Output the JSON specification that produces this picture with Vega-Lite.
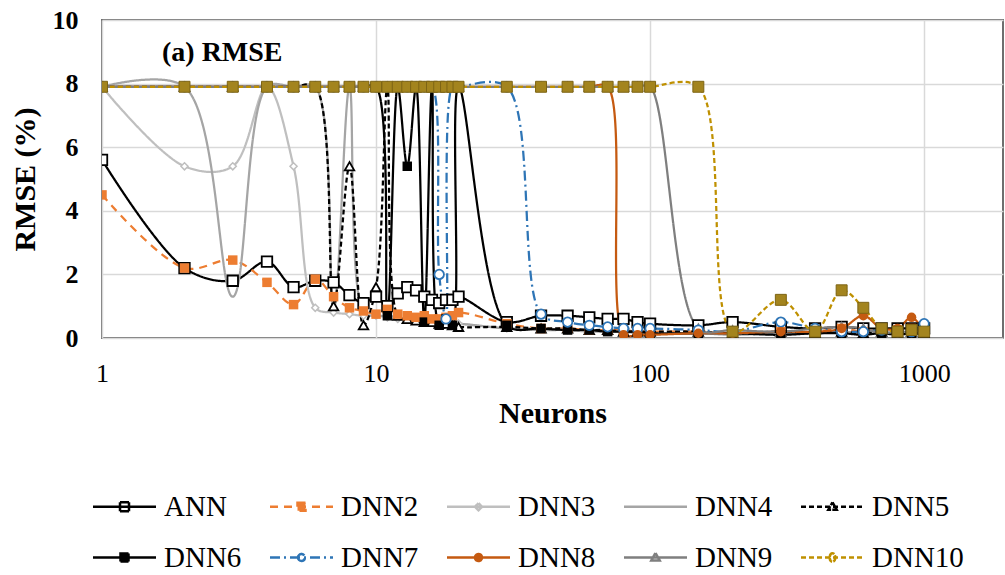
{
  "$schema": "https://vega.github.io/schema/vega-lite/v6.json",
  "width": 901,
  "height": 318,
  "autosize": {"type": "none"},
  "padding": {"left": 102, "top": 20, "right": 2, "bottom": 237},
  "background": "white",
  "title": {"text": "(a) RMSE", "anchor": "start", "frame": "group", "orient": "top", "offset": -82, "baseline": "alphabetic", "dx": 60, "font": "Liberation Serif", "fontSize": 28, "fontWeight": "bold", "color": "#000000"},
  "config": {"view": {"stroke": "#6E6E6E", "strokeWidth": 2}, "font": "Liberation Serif",
    "axis": {"labelFont": "Liberation Serif", "titleFont": "Liberation Serif"},
    "legend": {"labelFont": "Liberation Serif", "titleFont": "Liberation Serif"}},
  "data": {"values": [
    {"n":1,"ANN":5.6,"DNN2":4.5,"DNN3":7.9,"DNN4":7.9,"DNN5":7.9,"DNN6":7.9,"DNN7":7.9,"DNN8":7.9,"DNN9":7.9,"DNN10":7.9},
    {"n":2,"ANN":2.2,"DNN2":2.2,"DNN3":5.4,"DNN4":7.9,"DNN5":7.9,"DNN6":7.9,"DNN7":7.9,"DNN8":7.9,"DNN9":7.9,"DNN10":7.9},
    {"n":3,"ANN":1.8,"DNN2":2.45,"DNN3":5.4,"DNN4":1.3,"DNN5":7.9,"DNN6":7.9,"DNN7":7.9,"DNN8":7.9,"DNN9":7.9,"DNN10":7.9},
    {"n":4,"ANN":2.4,"DNN2":1.75,"DNN3":7.9,"DNN4":7.9,"DNN5":7.9,"DNN6":7.9,"DNN7":7.9,"DNN8":7.9,"DNN9":7.9,"DNN10":7.9},
    {"n":5,"ANN":1.6,"DNN2":1.05,"DNN3":5.4,"DNN4":7.9,"DNN5":7.9,"DNN6":7.9,"DNN7":7.9,"DNN8":7.9,"DNN9":7.9,"DNN10":7.9},
    {"n":6,"ANN":1.8,"DNN2":1.85,"DNN3":0.95,"DNN4":7.9,"DNN5":7.9,"DNN6":7.9,"DNN7":7.9,"DNN8":7.9,"DNN9":7.9,"DNN10":7.9},
    {"n":7,"ANN":1.75,"DNN2":1.3,"DNN3":0.8,"DNN4":0.9,"DNN5":1.0,"DNN6":7.9,"DNN7":7.9,"DNN8":7.9,"DNN9":7.9,"DNN10":7.9},
    {"n":8,"ANN":1.35,"DNN2":0.95,"DNN3":0.75,"DNN4":7.9,"DNN5":5.4,"DNN6":7.9,"DNN7":7.9,"DNN8":7.9,"DNN9":7.9,"DNN10":7.9},
    {"n":9,"ANN":1.1,"DNN2":0.85,"DNN3":0.7,"DNN4":0.8,"DNN5":0.4,"DNN6":7.9,"DNN7":7.9,"DNN8":7.9,"DNN9":7.9,"DNN10":7.9},
    {"n":10,"ANN":1.3,"DNN2":0.75,"DNN3":0.7,"DNN4":0.7,"DNN5":1.6,"DNN6":7.9,"DNN7":7.9,"DNN8":7.9,"DNN9":7.9,"DNN10":7.9},
    {"n":11,"ANN":1.0,"DNN2":0.9,"DNN3":0.65,"DNN4":0.7,"DNN5":7.9,"DNN6":0.7,"DNN7":7.9,"DNN8":7.9,"DNN9":7.9,"DNN10":7.9},
    {"n":12,"ANN":1.4,"DNN2":0.75,"DNN3":0.6,"DNN4":0.65,"DNN5":0.7,"DNN6":7.9,"DNN7":7.9,"DNN8":7.9,"DNN9":7.9,"DNN10":7.9},
    {"n":13,"ANN":1.6,"DNN2":0.7,"DNN3":0.6,"DNN4":0.6,"DNN5":0.6,"DNN6":5.4,"DNN7":7.9,"DNN8":7.9,"DNN9":7.9,"DNN10":7.9},
    {"n":14,"ANN":1.5,"DNN2":0.65,"DNN3":0.55,"DNN4":0.6,"DNN5":0.55,"DNN6":7.9,"DNN7":7.9,"DNN8":7.9,"DNN9":7.9,"DNN10":7.9},
    {"n":15,"ANN":1.3,"DNN2":0.7,"DNN3":0.55,"DNN4":0.55,"DNN5":0.5,"DNN6":0.5,"DNN7":7.9,"DNN8":7.9,"DNN9":7.9,"DNN10":7.9},
    {"n":16,"ANN":1.2,"DNN2":0.6,"DNN3":0.5,"DNN4":0.5,"DNN5":0.5,"DNN6":7.9,"DNN7":7.9,"DNN8":7.9,"DNN9":7.9,"DNN10":7.9},
    {"n":17,"ANN":1.1,"DNN2":0.6,"DNN3":0.5,"DNN4":0.5,"DNN5":0.45,"DNN6":0.4,"DNN7":2.0,"DNN8":7.9,"DNN9":7.9,"DNN10":7.9},
    {"n":18,"ANN":1.2,"DNN2":0.65,"DNN3":0.5,"DNN4":0.5,"DNN5":0.45,"DNN6":0.6,"DNN7":0.6,"DNN8":7.9,"DNN9":7.9,"DNN10":7.9},
    {"n":19,"ANN":1.2,"DNN2":0.7,"DNN3":0.45,"DNN4":0.45,"DNN5":0.4,"DNN6":0.4,"DNN7":7.9,"DNN8":7.9,"DNN9":7.9,"DNN10":7.9},
    {"n":20,"ANN":1.3,"DNN2":0.8,"DNN3":0.45,"DNN4":0.45,"DNN5":0.35,"DNN6":7.9,"DNN7":7.9,"DNN8":7.9,"DNN9":7.9,"DNN10":7.9},
    {"n":30,"ANN":0.5,"DNN2":0.45,"DNN3":0.3,"DNN4":0.3,"DNN5":0.35,"DNN6":0.4,"DNN7":7.9,"DNN8":7.9,"DNN9":7.9,"DNN10":7.9},
    {"n":40,"ANN":0.7,"DNN2":0.3,"DNN3":0.3,"DNN4":0.25,"DNN5":0.3,"DNN6":0.3,"DNN7":0.75,"DNN8":7.9,"DNN9":7.9,"DNN10":7.9},
    {"n":50,"ANN":0.7,"DNN2":0.3,"DNN3":0.25,"DNN4":0.25,"DNN5":0.3,"DNN6":0.25,"DNN7":0.5,"DNN8":7.9,"DNN9":7.9,"DNN10":7.9},
    {"n":60,"ANN":0.65,"DNN2":0.25,"DNN3":0.25,"DNN4":0.2,"DNN5":0.25,"DNN6":0.25,"DNN7":0.4,"DNN8":7.9,"DNN9":7.9,"DNN10":7.9},
    {"n":70,"ANN":0.6,"DNN2":0.25,"DNN3":0.2,"DNN4":0.2,"DNN5":0.25,"DNN6":0.2,"DNN7":0.35,"DNN8":7.9,"DNN9":7.9,"DNN10":7.9},
    {"n":80,"ANN":0.6,"DNN2":0.25,"DNN3":0.2,"DNN4":0.2,"DNN5":0.2,"DNN6":0.2,"DNN7":0.3,"DNN8":0.1,"DNN9":7.9,"DNN10":7.9},
    {"n":90,"ANN":0.5,"DNN2":0.2,"DNN3":0.2,"DNN4":0.15,"DNN5":0.2,"DNN6":0.2,"DNN7":0.3,"DNN8":0.1,"DNN9":7.9,"DNN10":7.9},
    {"n":100,"ANN":0.45,"DNN2":0.2,"DNN3":0.15,"DNN4":0.15,"DNN5":0.2,"DNN6":0.15,"DNN7":0.3,"DNN8":0.1,"DNN9":7.9,"DNN10":7.9},
    {"n":150,"ANN":0.4,"DNN2":0.2,"DNN3":0.15,"DNN4":0.15,"DNN5":0.2,"DNN6":0.15,"DNN7":0.25,"DNN8":0.15,"DNN9":0.3,"DNN10":7.9},
    {"n":200,"ANN":0.5,"DNN2":0.15,"DNN3":0.15,"DNN4":0.1,"DNN5":0.15,"DNN6":0.15,"DNN7":0.2,"DNN8":0.15,"DNN9":0.25,"DNN10":0.2},
    {"n":300,"ANN":0.35,"DNN2":0.2,"DNN3":0.15,"DNN4":0.15,"DNN5":0.2,"DNN6":0.1,"DNN7":0.5,"DNN8":0.2,"DNN9":0.2,"DNN10":1.2},
    {"n":400,"ANN":0.3,"DNN2":0.2,"DNN3":0.2,"DNN4":0.15,"DNN5":0.15,"DNN6":0.15,"DNN7":0.3,"DNN8":0.2,"DNN9":0.3,"DNN10":0.2},
    {"n":500,"ANN":0.35,"DNN2":0.3,"DNN3":0.15,"DNN4":0.2,"DNN5":0.2,"DNN6":0.15,"DNN7":0.2,"DNN8":0.3,"DNN9":0.35,"DNN10":1.5},
    {"n":600,"ANN":0.3,"DNN2":0.2,"DNN3":0.2,"DNN4":0.15,"DNN5":0.15,"DNN6":0.1,"DNN7":0.2,"DNN8":0.7,"DNN9":0.3,"DNN10":0.95},
    {"n":700,"ANN":0.3,"DNN2":0.3,"DNN3":0.15,"DNN4":0.2,"DNN5":0.2,"DNN6":0.15,"DNN7":0.25,"DNN8":0.3,"DNN9":0.15,"DNN10":0.3},
    {"n":800,"ANN":0.3,"DNN2":0.25,"DNN3":0.2,"DNN4":0.15,"DNN5":0.15,"DNN6":0.1,"DNN7":0.2,"DNN8":0.3,"DNN9":0.2,"DNN10":0.2},
    {"n":900,"ANN":0.3,"DNN2":0.3,"DNN3":0.15,"DNN4":0.2,"DNN5":0.2,"DNN6":0.15,"DNN7":0.2,"DNN8":0.65,"DNN9":0.2,"DNN10":0.25},
    {"n":1000,"ANN":0.3,"DNN2":0.2,"DNN3":0.2,"DNN4":0.15,"DNN5":0.15,"DNN6":0.1,"DNN7":0.45,"DNN8":0.2,"DNN9":0.3,"DNN10":0.2}
  ]},
  "transform": [
    {"fold": ["ANN","DNN2","DNN3","DNN4","DNN5","DNN6","DNN7","DNN8","DNN9","DNN10"], "as": ["series","value"]},
    {"filter": "isValid(datum.value)"}
  ],
  "encoding": {
    "x": {"field": "n", "type": "quantitative",
      "scale": {"type": "log", "domain": [1, 1940], "nice": false},
      "axis": {"values": [1,10,100,1000], "format": "d", "title": "Neurons", "grid": true, "gridColor": "#D9D9D9", "gridWidth": 1.5, "ticks": false, "domain": false,
        "labelFont": "Liberation Serif", "labelFontSize": 26, "labelColor": "#000000", "labelPadding": 22, "labelFlush": false,
        "titleFont": "Liberation Serif", "titleFontSize": 30, "titleFontWeight": "bold", "titleColor": "#000000", "titlePadding": 12}},
    "y": {"field": "value", "type": "quantitative",
      "scale": {"domain": [0, 10], "nice": false},
      "axis": {"values": [0,2,4,6,8,10], "title": "RMSE (%)", "grid": true, "gridColor": "#D9D9D9", "gridWidth": 1.5, "ticks": false, "domain": false,
        "labelFont": "Liberation Serif", "labelFontSize": 26, "labelFontWeight": "bold", "labelColor": "#000000", "labelPadding": 24, "labelFlush": false,
        "titleFont": "Liberation Serif", "titleFontSize": 30, "titleFontWeight": "bold", "titleColor": "#000000", "titlePadding": 12}}
  },
  "layer": [
    {
      "mark": {"type": "line", "interpolate": "catmull-rom", "strokeWidth": 2.25, "clip": true},
      "encoding": {
        "color": {"field": "series", "type": "nominal",
          "scale": {"domain": ["ANN","DNN2","DNN3","DNN4","DNN5","DNN6","DNN7","DNN8","DNN9","DNN10"],
                    "range": ["#000000","#ED7D31","#BFBFBF","#A5A5A5","#000000","#000000","#2E75B6","#C55A11","#7F7F7F","#BF9000"]},
          "legend": {"title": null, "orient": "none", "legendX": 8, "legendY": 472, "direction": "horizontal", "columns": 5,
            "padding": 0, "columnPadding": 9, "rowPadding": 21, "gridAlign": "all",
            "symbolSize": 400, "symbolStrokeWidth": 2.5, "labelOffset": 25,
            "labelFont": "Liberation Serif", "labelFontSize": 29, "labelColor": "#000000", "labelLimit": 300,
            "symbolType": {"expr": "['M-3.15,0H3.15M-0.45,-0.45H0.45V0.45H-0.45V-0.45V0.45H0.45V-0.45H-0.45','M-3.15,0H3.15M-0.4,-0.4H0.4V0.4H-0.4Z','M-3.15,0H3.15M0,-0.35L0.35,0L0,0.35L-0.35,0L0,-0.35L-0.35,0L0,0.35L0.35,0L0,-0.35','M-3.15,0H3.15','M-3.15,0H3.15M0,-0.45L0.42,0.3H-0.42L0,-0.45L-0.42,0.3H0.42L0,-0.45','M-3.15,0H3.15M-0.4,-0.4H0.4V0.4H-0.4Z','M-3.15,0H3.15M-0.35,0A0.35,0.35 0 1,0 0.35,0A0.35,0.35 0 1,0 -0.35,0A0.35,0.35 0 1,1 0.35,0A0.35,0.35 0 1,1 -0.35,0','M-3.15,0H3.15M-0.35,0A0.35,0.35 0 1,0 0.35,0A0.35,0.35 0 1,0 -0.35,0Z','M-3.15,0H3.15M0,-0.45L0.42,0.3H-0.42L0,-0.45L-0.42,0.3H0.42L0,-0.45','M-3.15,0H3.15M-0.28,0A0.28,0.42 0 1,0 0.28,0A0.28,0.42 0 1,0 -0.28,0A0.28,0.42 0 1,1 0.28,0A0.28,0.42 0 1,1 -0.28,0'][indexof(['ANN','DNN2','DNN3','DNN4','DNN5','DNN6','DNN7','DNN8','DNN9','DNN10'], datum.value)]"}
          }},
        "strokeDash": {"field": "series", "type": "nominal",
          "scale": {"domain": ["ANN","DNN2","DNN3","DNN4","DNN5","DNN6","DNN7","DNN8","DNN9","DNN10"],
                    "range": [[1,0],[8,6],[1,0],[1,0],[5,3],[1,0],[10,4,2,4],[1,0],[1,0],[5,3]]}}
      }
    },
    {
      "transform": [{"filter": {"field": "series", "equal": "ANN"}}],
      "mark": {"type": "point", "shape": "square", "filled": false, "fill": "white", "strokeWidth": 1.8, "size": 110, "opacity": 1, "clip": true},
      "encoding": {"color": {"field": "series", "type": "nominal", "legend": null}}
    },
    {
      "transform": [{"filter": {"field": "series", "equal": "DNN3"}}],
      "mark": {"type": "point", "shape": "diamond", "filled": false, "fill": "white", "strokeWidth": 1.5, "size": 50, "opacity": 1, "clip": true},
      "encoding": {"color": {"field": "series", "type": "nominal", "legend": null}}
    },
    {
      "transform": [{"filter": {"field": "series", "oneOf": ["DNN5","DNN9"]}}],
      "mark": {"type": "point", "shape": "triangle-up", "filled": false, "fill": "white", "strokeWidth": 1.8, "size": 90, "opacity": 1, "clip": true},
      "encoding": {"color": {"field": "series", "type": "nominal", "legend": null}}
    },
    {
      "transform": [{"filter": {"field": "series", "oneOf": ["DNN2","DNN6"]}}],
      "mark": {"type": "point", "shape": "square", "filled": true, "size": 90, "opacity": 1, "clip": true},
      "encoding": {"color": {"field": "series", "type": "nominal", "legend": null}}
    },
    {
      "transform": [{"filter": {"field": "series", "equal": "DNN7"}}],
      "mark": {"type": "point", "shape": "circle", "filled": false, "fill": "white", "strokeWidth": 1.8, "size": 90, "opacity": 1, "clip": true},
      "encoding": {"color": {"field": "series", "type": "nominal", "legend": null}}
    },
    {
      "transform": [{"filter": {"field": "series", "equal": "DNN8"}}],
      "mark": {"type": "point", "shape": "circle", "filled": true, "size": 90, "opacity": 1, "clip": true},
      "encoding": {"color": {"field": "series", "type": "nominal", "legend": null}}
    },
    {
      "transform": [{"filter": {"field": "series", "equal": "DNN10"}}],
      "mark": {"type": "point", "shape": "square", "filled": true, "size": 120, "fill": "#A3841E", "stroke": "#7D6414", "strokeWidth": 1, "opacity": 1, "clip": true},
      "encoding": {}
    }
  ]
}
